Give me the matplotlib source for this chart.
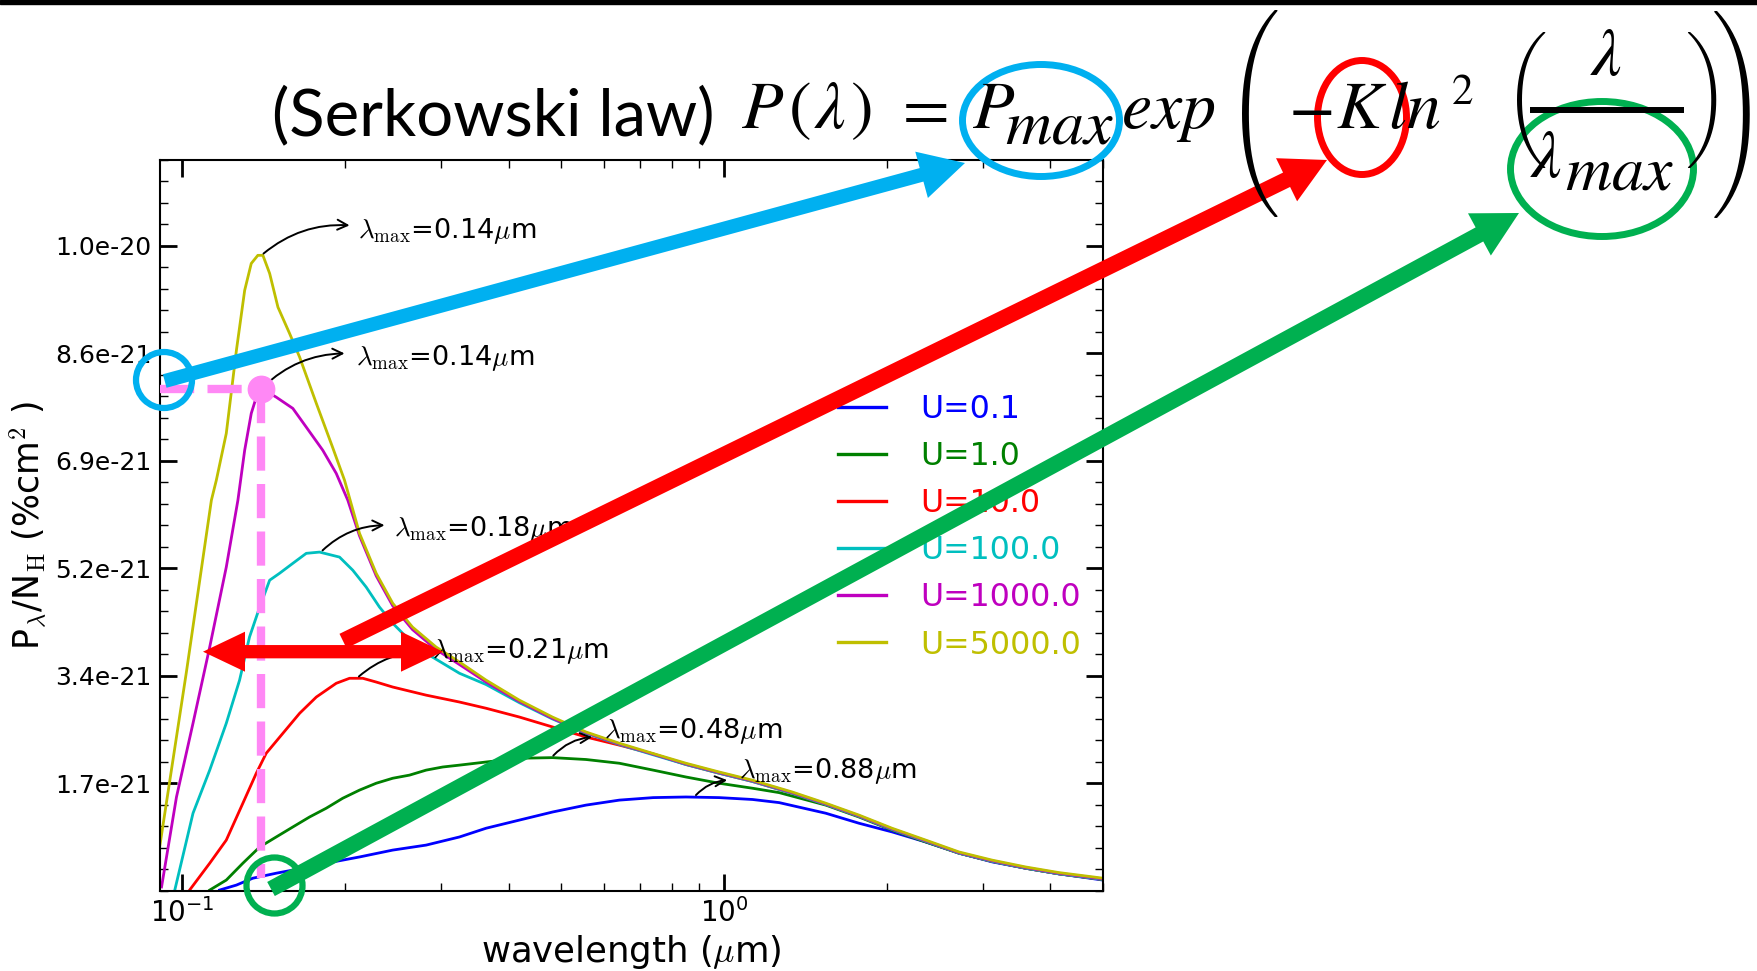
import numpy as np
import matplotlib
matplotlib.use('Agg')
import matplotlib.pyplot as plt
from matplotlib.patches import Ellipse, Circle, FancyArrow, Rectangle
from matplotlib.ticker import MultipleLocator

plt.rcParams['font.family'] = 'DejaVu Sans'
plt.rcParams['mathtext.fontset'] = 'cm'

# polarisation per H for each radiation field strength U (P in 1e-21 %cm^2, wavelength in um)
u_labels = ['U=0.1', 'U=1.0', 'U=10.0', 'U=100.0', 'U=1000.0', 'U=5000.0']
colors = ['b', 'g', 'r', 'c', 'm', 'y']
lam_max = [0.88, 0.48, 0.21, 0.18, 0.14, 0.14]

lam_01 = [0.1172, 0.1259, 0.1350, 0.1491, 0.1600, 0.1844, 0.2124, 0.2446, 0.2819, 0.3248,
          0.3637, 0.4188, 0.4826, 0.5560, 0.6406, 0.7395, 0.8500, 0.979, 1.128, 1.263,
          1.540, 1.773, 2.043, 2.354, 2.719, 3.126, 3.599, 4.145, 5.0]
p_01 = [0.01, 0.09, 0.20, 0.28, 0.33, 0.44, 0.54, 0.65, 0.73, 0.86,
        1.00, 1.13, 1.26, 1.37, 1.45, 1.49, 1.50, 1.49, 1.46, 1.41,
        1.24, 1.08, 0.94, 0.78, 0.60, 0.46, 0.36, 0.27, 0.17]

lam_1 = [0.1124, 0.1206, 0.1294, 0.1390, 0.1491, 0.1600, 0.1718, 0.1844, 0.1978, 0.2124,
         0.2280, 0.2446, 0.2627, 0.2819, 0.3025, 0.3248, 0.3637, 0.4188, 0.4826, 0.5560,
         0.6406, 0.7395, 0.8500, 0.979, 1.128, 1.263, 1.540, 1.773, 2.040, 2.354,
         2.712, 3.119, 3.599, 4.145, 5.0]
p_1 = [0.01, 0.17, 0.44, 0.70, 0.86, 1.02, 1.18, 1.32, 1.48, 1.61,
       1.72, 1.80, 1.85, 1.93, 1.98, 2.01, 2.06, 2.12, 2.13, 2.10,
       2.04, 1.93, 1.82, 1.72, 1.64, 1.57, 1.37, 1.18, 0.97, 0.78,
       0.60, 0.47, 0.36, 0.27, 0.18]

lam_10 = [0.1032, 0.1124, 0.1206, 0.1294, 0.1370, 0.1429, 0.1534, 0.1647, 0.1768, 0.1924,
          0.2036, 0.2154, 0.2280, 0.2446, 0.2819, 0.3248, 0.3637, 0.4188, 0.4826, 0.5560,
          0.6406, 0.7395, 0.8500, 0.979, 1.126, 1.335, 1.540, 1.773, 2.040, 2.354,
          2.712, 3.119, 3.599, 4.145, 5.0]
p_10 = [0.01, 0.44, 0.81, 1.40, 1.88, 2.20, 2.52, 2.84, 3.10, 3.32,
        3.40, 3.40, 3.34, 3.26, 3.13, 3.02, 2.92, 2.78, 2.62, 2.46,
        2.33, 2.19, 2.02, 1.88, 1.75, 1.56, 1.38, 1.19, 0.98, 0.79,
        0.60, 0.47, 0.36, 0.27, 0.18]

lam_100 = [0.0969, 0.1047, 0.1124, 0.1206, 0.1276, 0.1331, 0.1390, 0.1450, 0.1512, 0.1600,
           0.1694, 0.1792, 0.1951, 0.2064, 0.2185, 0.2312, 0.2446, 0.2627, 0.2819, 0.3248,
           0.3637, 0.4188, 0.4819, 0.5560, 0.6406, 0.7367, 0.8500, 0.979, 1.126, 1.335,
           1.540, 1.773, 2.040, 2.354, 2.712, 3.119, 3.599, 4.145, 5.0]
p_100 = [0.01, 1.24, 1.93, 2.68, 3.37, 4.06, 4.54, 4.97, 5.08, 5.24,
         5.40, 5.42, 5.34, 5.13, 4.86, 4.54, 4.28, 4.01, 3.80, 3.48,
         3.30, 3.01, 2.75, 2.52, 2.34, 2.18, 2.02, 1.88, 1.75, 1.56,
         1.38, 1.19, 0.98, 0.79, 0.60, 0.47, 0.36, 0.27, 0.18]

lam_1000 = [0.0916, 0.0976, 0.1047, 0.1124, 0.1206, 0.1267, 0.1304, 0.1341, 0.1370, 0.1401,
            0.1491, 0.1600, 0.1694, 0.1817, 0.1924, 0.2021, 0.2124, 0.2280, 0.2446, 0.2660,
            0.2941, 0.3248, 0.3637, 0.4188, 0.4819, 0.5560, 0.6406, 0.7367, 0.8500, 0.979,
            1.126, 1.335, 1.540, 1.773, 2.040, 2.354, 2.712, 3.119, 3.599, 4.145, 5.0]
p_1000 = [0.06, 1.50, 2.68, 3.90, 5.18, 6.25, 7.05, 7.64, 7.90, 8.04,
          7.90, 7.72, 7.42, 7.05, 6.68, 6.25, 5.68, 5.04, 4.56, 4.18,
          3.86, 3.62, 3.34, 3.03, 2.76, 2.53, 2.35, 2.19, 2.03, 1.89,
          1.76, 1.57, 1.39, 1.20, 0.99, 0.80, 0.61, 0.48, 0.37, 0.28, 0.19]

lam_5000 = [0.0905, 0.1018, 0.1132, 0.1156, 0.1206, 0.1259, 0.1304, 0.1341, 0.1379, 0.1409,
            0.1450, 0.1502, 0.1578, 0.1647, 0.1768, 0.1894, 0.1993, 0.2124, 0.2280, 0.2446,
            0.2660, 0.2941, 0.3248, 0.3637, 0.4188, 0.4819, 0.5560, 0.6406, 0.7367, 0.8500,
            0.979, 1.126, 1.335, 1.540, 1.773, 2.040, 2.354, 2.712, 3.119, 3.599, 4.145, 5.0]
p_5000 = [0.60, 3.50, 6.25, 6.57, 7.32, 8.65, 9.61, 10.04, 10.17, 10.17,
          9.88, 9.34, 8.92, 8.54, 7.80, 7.10, 6.57, 5.72, 5.08, 4.60,
          4.22, 3.90, 3.66, 3.37, 3.05, 2.78, 2.54, 2.36, 2.20, 2.04,
          1.90, 1.77, 1.58, 1.40, 1.21, 1.00, 0.81, 0.62, 0.49, 0.38, 0.29, 0.20]

curves_lam = [lam_01, lam_1, lam_10, lam_100, lam_1000, lam_5000]
curves_p = [p_01, p_1, p_10, p_100, p_1000, p_5000]

ytick_step = 1.72e-21
unit = 1e-21

# where each lambda_max label sits (data coords): text anchor and arrow head
label_xy = [(1.066, 1.81), (0.601, 2.45), (0.2884, 3.73), (0.2464, 5.67), (0.2089, 8.42), (0.2106, 10.45)]
head_xy = [(1.0128, 1.77), (0.5709, 2.46), (0.2835, 3.82), (0.2362, 5.85), (0.1993, 8.60), (0.2036, 10.65)]

W, H = 1757, 971
fig = plt.figure(figsize=(W / 100, H / 100), dpi=100)
ax = fig.add_axes([160 / W, 1 - 890.7 / H, (1103 - 160) / W, (890.7 - 160) / H])

for lam, p, c, lab in zip(curves_lam, curves_p, colors, u_labels):
    ax.plot(lam, np.array(p) * unit, color=c, lw=2.0, label=lab)

ax.set_xscale('log')
ax.set_xlim(0.091, 5.0)
ax.set_ylim(0, 6.8 * ytick_step)
yt = [k * ytick_step for k in range(1, 7)]
ax.set_yticks(yt)
ax.set_yticklabels(['%.1e' % v for v in yt])
ax.yaxis.set_minor_locator(MultipleLocator(ytick_step / 5))
ax.tick_params(which='both', direction='in', top=True, right=True)
ax.tick_params(which='major', length=12, width=2, labelsize=18, pad=6)
ax.tick_params(axis='x', which='major', labelsize=20, pad=5)
ax.tick_params(which='minor', length=5.5, width=1)
for s in ax.spines.values():
    s.set_linewidth(1.5)

ax.set_xlabel(r'wavelength ($\mu$m)', fontsize=25.6, labelpad=4)
ax.set_ylabel(r'P$_\lambda$/N$_{\rm H}$ (%cm$^2$ )', fontsize=25)
ax.yaxis.set_label_coords(-0.117, 0.5)

leg = ax.legend(loc='upper left', bbox_to_anchor=(0.719, 0.68), frameon=False,
                fontsize=22.8, handlelength=1.5, handletextpad=1.1,
                labelspacing=0.51, borderpad=0, borderaxespad=0)
for txt, ln in zip(leg.get_texts(), leg.get_lines()):
    txt.set_color(ln.get_color())
    ln.set_linewidth(2.4)

# lambda_max labels with curved arrows from each peak
for lam, p, lm, txy, hxy in zip(curves_lam, curves_p, lam_max, label_xy, head_xy):
    pk = np.interp(lm, lam, p)
    ax.annotate('', xy=(hxy[0], hxy[1] * unit), xytext=(lm, pk * unit),
                arrowprops=dict(arrowstyle='->', connectionstyle='arc3,rad=-0.2',
                                color='k', lw=1.4, shrinkA=2, shrinkB=0, mutation_scale=18))
    ax.text(txy[0], txy[1] * unit, r'$\lambda_{\rm max}$=%.2f$\mu$m' % lm,
            fontsize=19.5, ha='left', va='baseline')

# P_max guide for U=1000
PINK = '#FF88F5'
pm = np.interp(lam_max[4], lam_1000, p_1000) * unit
ax.plot([0.091, lam_max[4]], [pm, pm], ls=(0, (4.1, 1.6)), color=PINK, lw=6, zorder=6, clip_on=False)
ax.plot([lam_max[4], lam_max[4]], [pm, 0.2 * unit], ls=(0, (4.1, 1.6)), color=PINK, lw=6, zorder=6)
ax.plot([lam_max[4]], [pm], 'o', color=PINK, ms=19, zorder=7)

# overlay layer in pixel units for the formula and callouts
BLUE, RED, GREEN = '#00B0F0', '#FF0000', '#00B050'
ov = fig.add_axes([0, 0, 1, 1], zorder=5)
ov.set_xlim(0, W)
ov.set_ylim(H, 0)
ov.axis('off')
renderer = fig.canvas.get_renderer()

ov.add_patch(Rectangle((0, 0), W, 4, color='k'))
ov.text(272, 135, '(Serkowski law)', fontsize=47, family='Lato', ha='left', va='baseline')


def fpiece(x, y, s, size=49):
    ov.text(x, y, s, fontsize=size, math_fontfamily='stix', ha='left', va='baseline')


def delim(x, yc, ch, height):
    # large delimiters from the TeX extension font, sized to a pixel height
    t = ov.text(x, yc, ch, family='cmex10', fontsize=100, ha='left', va='center')
    h = t.get_window_extent(renderer).height
    t.set_fontsize(100 * height / h)


fpiece(741, 128, r'$P$')
fpiece(788, 128, r'$($')
fpiece(814, 128, r'$\lambda$')
fpiece(850, 128, r'$)$')
fpiece(893, 128, r'$=$')
fpiece(972, 128, r'$P$')
fpiece(1005, 143, r'$max$', 46)
fpiece(1121, 128, r'$exp$')
delim(1226, 113.5, '\xc3', 203)
fpiece(1288, 128, r'$-$')
fpiece(1336, 128, r'$K$')
fpiece(1388, 128, r'$ln$')
ov.text(1452, 104, '2', family='STIXGeneral', fontsize=31, ha='left', va='baseline')
delim(1505, 100, '\xb5', 137)
fpiece(1590, 75, r'$\lambda$')
ov.plot([1530, 1684], [110, 110], color='k', lw=4.3, solid_capstyle='butt')
fpiece(1530, 177, r'$\lambda$')
fpiece(1565, 190, r'$max$', 46)
delim(1685, 100, '\xb6', 137)
delim(1712, 113.5, '!', 203)

ov.add_patch(Ellipse((1041, 120.5), 157, 112, fill=False, ec=BLUE, lw=5))
ov.add_patch(Ellipse((1362, 117.5), 89, 114, fill=False, ec=RED, lw=5))
ov.add_patch(Ellipse((1602, 169), 183, 135, fill=False, ec=GREEN, lw=5))

ov.add_patch(Circle((164, 380), 28, fill=False, ec=BLUE, lw=4.5))
ov.add_patch(Circle((274.5, 885.5), 28, fill=False, ec=GREEN, lw=4.5))


def big_arrow(x0, y0, x1, y1, color, width):
    ov.add_patch(FancyArrow(x0, y0, x1 - x0, y1 - y0, width=width, head_width=48,
                            head_length=45, length_includes_head=True, color=color, lw=0))


big_arrow(164.7, 381, 965, 163, BLUE, 14)
big_arrow(343, 641, 1327, 160, RED, 16)
big_arrow(271, 889, 1519, 213, GREEN, 16)
# double-headed width marker
ov.add_patch(FancyArrow(323, 651.7, 443 - 323, 0, width=13.3, head_width=40, head_length=42,
                        length_includes_head=True, color=RED, lw=0))
ov.add_patch(FancyArrow(323, 651.7, 203 - 323, 0, width=13.3, head_width=40, head_length=42,
                        length_includes_head=True, color=RED, lw=0))

fig.savefig('out.png', dpi=100)
